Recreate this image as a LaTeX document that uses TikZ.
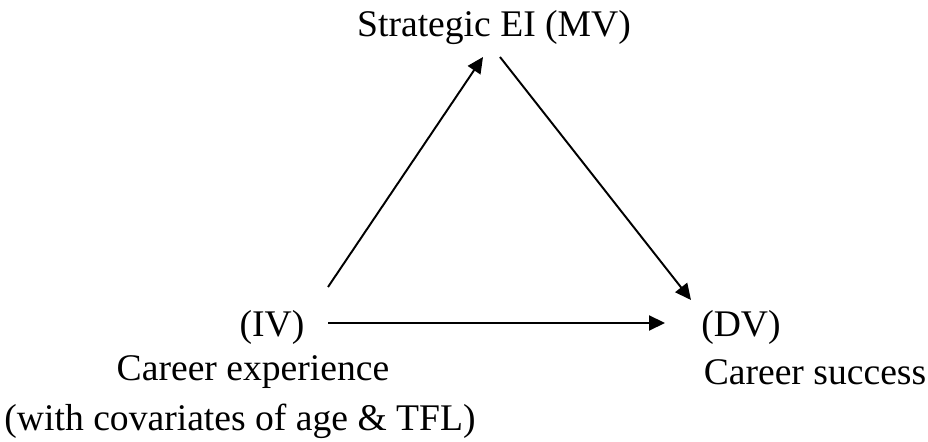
\documentclass[tikz,border=0pt]{standalone}
\usepackage{fontspec}
\setmainfont{Liberation Serif}
\usetikzlibrary{arrows.meta, positioning}

\begin{document}
\begin{tikzpicture}[x=0.319pt, y=-0.319pt]
\tikzstyle{var}=[inner sep=0pt, font=\fontsize{12}{14}\selectfont]
\tikzstyle{connect}=[-{Triangle[length=5.1pt, width=4.8pt]}, line width=0.62pt]
    \useasboundingbox (0,0) rectangle (928,442);
    \node[var] (mv) at (494,28) {Strategic EI (MV)};
    \node[var] (iv) at (272,327) {(IV)};
    \node[var] (dv) at (741,327) {(DV)};
    \node[var] (ivname) at (253,372) {Career experience};
    \node[var] (cov) at (240,421) {(with covariates of age \& TFL)};
    \node[var] (dvname) at (815,372) {Career success};
    \draw[connect] ([shift={(56,-40)}]iv.center) -- ([shift={(-11,29)}]mv.center);
    \draw[connect] ([shift={(6,29)}]mv.center) -- ([shift={(-50,-27)}]dv.center);
    \draw[connect] ([shift={(56,-4)}]iv.center) -- ([shift={(-76,-4)}]dv.center);
\end{tikzpicture}
\end{document}
